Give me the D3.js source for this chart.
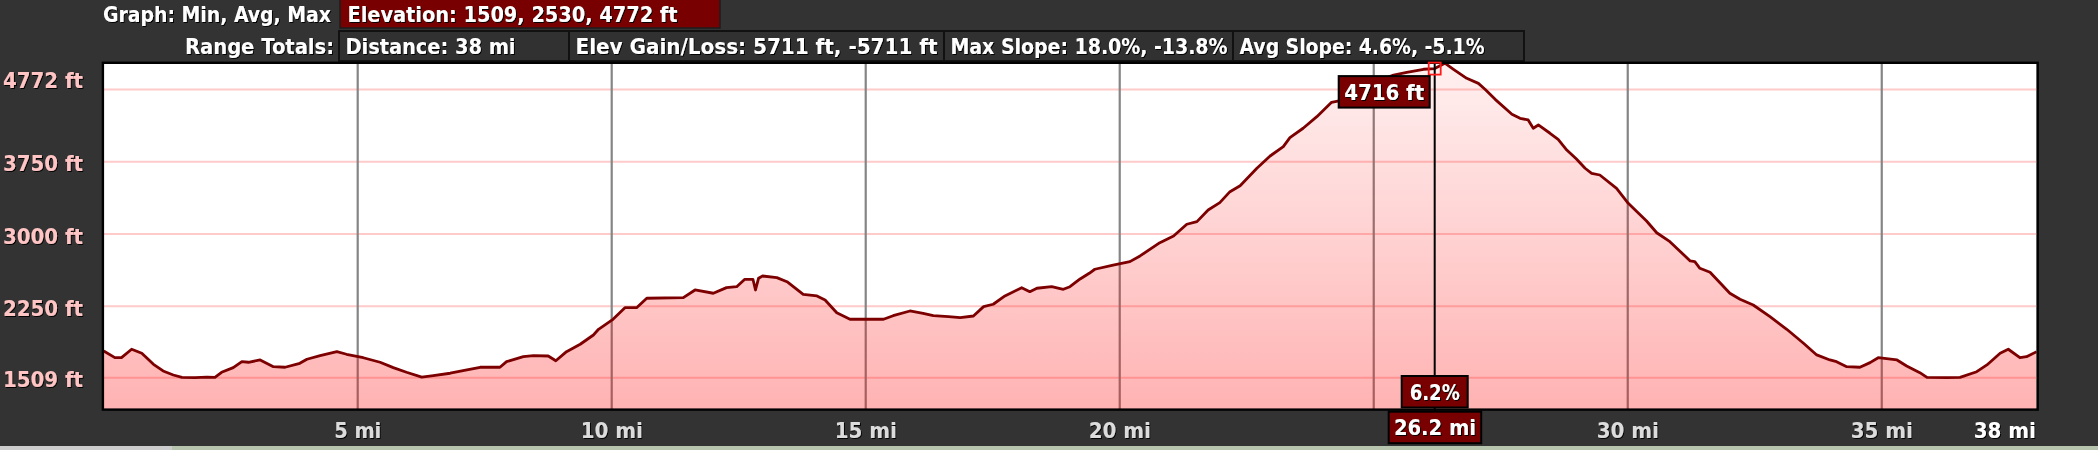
<!DOCTYPE html>
<html>
<head>
<meta charset="utf-8">
<script src="https://cdn.jsdelivr.net/npm/d3@7"></script>
<style>
  html, body { margin: 0; padding: 0; background: #333333; }
  svg { display: block; }
  text { font-family: "DejaVu Sans", Verdana, sans-serif; font-weight: bold; }
</style>
</head>
<body>
<svg id="chart" width="2098" height="450"></svg>
<script>
// ---------------- DATA ----------------
const distanceMi = [0, 0.22, 0.35, 0.55, 0.75, 0.98, 1.17, 1.37, 1.54, 1.80, 2.03, 2.19, 2.32, 2.55, 2.72, 2.85, 3.08, 3.34, 3.57, 3.86,
  4.00, 4.26, 4.59, 4.78, 5.11, 5.44, 5.70, 5.96, 6.26, 6.49, 6.82, 7.15, 7.41, 7.80, 7.93, 8.26, 8.46, 8.75, 8.90, 9.11,
  9.38, 9.64, 9.74, 10.01, 10.26, 10.49, 10.69, 11.41, 11.64, 12.00, 12.26, 12.46, 12.62, 12.78, 12.83, 12.89, 12.97, 13.25, 13.45, 13.77,
  14.04, 14.20, 14.43, 14.69, 15.35, 15.54, 15.87, 16.13, 16.33, 16.63, 16.86, 17.12, 17.32, 17.51, 17.74, 18.07, 18.23, 18.37, 18.66, 18.89,
  19.02, 19.22, 19.40, 19.51, 19.87, 20.20, 20.40, 20.79, 21.06, 21.32, 21.52, 21.74, 21.97, 22.17, 22.37, 22.70, 22.96, 23.22, 23.35, 23.61,
  23.88, 24.17, 24.34, 24.73, 25.03, 25.39, 25.65, 25.98, 26.20, 26.40, 26.57, 26.83, 27.06, 27.19, 27.39, 27.72, 27.88, 28.04, 28.14, 28.24,
  28.47, 28.63, 28.80, 28.99, 29.16, 29.29, 29.45, 29.78, 30.01, 30.37, 30.57, 30.83, 31.23, 31.32, 31.42, 31.62, 32.01, 32.21, 32.47, 32.80,
  33.13, 33.46, 33.72, 33.98, 34.11, 34.31, 34.57, 34.77, 34.93, 35.30, 35.49, 35.75, 35.89, 36.28, 36.54, 36.87, 37.07, 37.33, 37.49, 37.72,
  37.85, 38.05];
const elevationFt = [1786, 1717, 1717, 1804, 1762, 1648, 1579, 1537, 1512, 1509, 1515, 1512, 1565, 1613, 1675, 1669, 1693, 1623, 1617, 1658,
  1700, 1737, 1779, 1752, 1716, 1669, 1613, 1565, 1515, 1530, 1555, 1589, 1617, 1617, 1675, 1727, 1737, 1734, 1685, 1779,
  1856, 1952, 2011, 2108, 2235, 2235, 2333, 2339, 2419, 2385, 2443, 2453, 2530, 2530, 2419, 2540, 2564, 2547, 2505, 2374,
  2357, 2315, 2183, 2115, 2115, 2152, 2201, 2177, 2152, 2142, 2132, 2149, 2246, 2271, 2357, 2443, 2401, 2437, 2453, 2426,
  2453, 2533, 2592, 2634, 2678, 2713, 2772, 2910, 2979, 3101, 3128, 3249, 3325, 3439, 3501, 3682, 3809, 3906, 3999, 4097,
  4217, 4366, 4383, 4494, 4577, 4649, 4678, 4709, 4716, 4772, 4709, 4615, 4563, 4501, 4397, 4242, 4200, 4183, 4097, 4131,
  4045, 3982, 3871, 3778, 3682, 3630, 3612, 3474, 3318, 3135, 3013, 2920, 2720, 2713, 2644, 2603, 2385, 2322, 2263, 2142,
  2011, 1866, 1745, 1693, 1675, 1623, 1617, 1665, 1716, 1693, 1630, 1561, 1512, 1509, 1512, 1571, 1641, 1762, 1804, 1716,
  1727, 1779];

const yGridValues = [1509, 2250, 3000, 3750, 4500];
const yLabelValues = [1509, 2250, 3000, 3750, 4772];
const yLabelTexts = ["1509 ft", "2250 ft", "3000 ft", "3750 ft", "4772 ft"];
const xGridValues = [5, 10, 15, 20, 25, 30, 35];
const xLabelValues = [5, 10, 15, 20, 30, 35];
const xLabelTexts = ["5 mi", "10 mi", "15 mi", "20 mi", "30 mi", "35 mi"];
const totalDistanceLabel = "38 mi";

const headerRow1Title = "Graph: Min, Avg, Max";
const headerRow1Items = ["Elevation: 1509, 2530, 4772 ft"];
const headerRow2Title = "Range Totals:";
const headerRow2Items = ["Distance: 38 mi", "Elev Gain/Loss: 5711 ft, -5711 ft", "Max Slope: 18.0%, -13.8%", "Avg Slope: 4.6%, -5.1%"];

const cursorMi = 26.2;
const cursorFt = 4716;
const cursorElevLabel = "4716 ft";
const cursorSlopeLabel = "6.2%";
const cursorDistLabel = "26.2 mi";

// ---------------- LAYOUT ----------------
const svg = d3.select("#chart");
const plotL = 103.7, plotR = 2036.7, plotT = 63.2, plotB = 409;
const x = d3.scaleLinear().domain([0, 38.05]).range([plotL, plotR]);
const y = d3.scaleLinear().domain([1184, 4772]).range([plotB, plotT]);

const data = distanceMi.map((d, i) => ({ mi: d, ft: elevationFt[i] }));

const defs = svg.append("defs");
const f = defs.append("filter").attr("id", "sh").attr("x", "-10%").attr("y", "-30%").attr("width", "130%").attr("height", "170%");
f.append("feDropShadow").attr("dx", 1).attr("dy", 1).attr("stdDeviation", 0.7).attr("flood-color", "#000").attr("flood-opacity", 0.95);

const grad = defs.append("linearGradient").attr("id", "fillGrad")
  .attr("gradientUnits", "userSpaceOnUse").attr("x1", 0).attr("y1", plotT).attr("x2", 0).attr("y2", plotB);
grad.append("stop").attr("offset", 0).attr("stop-color", "#ff0000").attr("stop-opacity", 0.06);
grad.append("stop").attr("offset", 1).attr("stop-color", "#ff0000").attr("stop-opacity", 0.30);

defs.append("clipPath").attr("id", "plotClip").append("rect")
  .attr("x", plotL).attr("y", plotT).attr("width", plotR - plotL).attr("height", plotB - plotT);

// bottom strip (map edge)
svg.append("rect").attr("x", 0).attr("y", 446).attr("width", 2098).attr("height", 4).attr("fill", "#b7c4ae");
svg.append("rect").attr("x", 0).attr("y", 446).attr("width", 172).attr("height", 4).attr("fill", "#cdcdcd");

// ---------------- HEADER ----------------
const hdrFont = 21;
function hText(g, xPos, yPos, anchor, width, t) {
  g.append("text").attr("x", xPos).attr("y", yPos).attr("text-anchor", anchor)
    .attr("font-size", hdrFont).attr("fill", "#fff").attr("filter", "url(#sh)")
    .attr("textLength", width).attr("lengthAdjust", "spacingAndGlyphs").text(t);
}
const header = svg.append("g");
hText(header, 331, 22, "end", 228, headerRow1Title);
const row1Edges = [340, 720];
const row1TextW = [330];
headerRow1Items.forEach((t, i) => {
  header.append("rect").attr("x", row1Edges[i]).attr("y", -1).attr("width", row1Edges[i + 1] - row1Edges[i]).attr("height", 29)
    .attr("fill", "#780000").attr("stroke", "#1c1c1c").attr("stroke-width", 1.5);
  hText(header, row1Edges[i] + 7.5, 22, "start", row1TextW[i], t);
});
hText(header, 334, 54, "end", 149, headerRow2Title);
const row2Edges = [339, 569, 944, 1233, 1524];
const row2TextW = [170, 362, 277, 245];
headerRow2Items.forEach((t, i) => {
  header.append("rect").attr("x", row2Edges[i]).attr("y", 31).attr("width", row2Edges[i + 1] - row2Edges[i]).attr("height", 30)
    .attr("fill", "#313131").attr("stroke", "#111").attr("stroke-width", 2);
  hText(header, row2Edges[i] + 6.5, 54, "start", row2TextW[i], t);
});

// ---------------- PLOT ----------------
const plot = svg.append("g");
plot.append("rect").attr("x", plotL).attr("y", plotT).attr("width", plotR - plotL).attr("height", plotB - plotT).attr("fill", "#fff");

const gridG = plot.append("g").attr("clip-path", "url(#plotClip)");
gridG.selectAll("line.hg").data(yGridValues).join("line").attr("class", "hg")
  .attr("x1", plotL).attr("x2", plotR).attr("y1", d => y(d)).attr("y2", d => y(d))
  .attr("stroke", "#ffcaca").attr("stroke-width", 2);
gridG.selectAll("line.vg").data(xGridValues).join("line").attr("class", "vg")
  .attr("x1", d => x(d)).attr("x2", d => x(d)).attr("y1", plotT).attr("y2", plotB)
  .attr("stroke", "#858585").attr("stroke-width", 2.2);

const area = d3.area().x(d => x(d.mi)).y0(y(y.domain()[0])).y1(d => y(d.ft));
const line = d3.line().x(d => x(d.mi)).y(d => y(d.ft));
const dataG = plot.append("g").attr("clip-path", "url(#plotClip)");
dataG.append("path").datum(data).attr("d", area).attr("fill", "url(#fillGrad)");
dataG.append("path").datum(data).attr("d", line).attr("fill", "none")
  .attr("stroke", "#7d0000").attr("stroke-width", 2.8).attr("stroke-linejoin", "round");

// plot border
plot.append("rect").attr("x", plotL - 0.8).attr("y", plotT - 0.4).attr("width", plotR - plotL + 1.8).attr("height", plotB - plotT + 1)
  .attr("fill", "none").attr("stroke", "#000").attr("stroke-width", 2.4);

// ---------------- AXES LABELS ----------------
svg.append("g").selectAll("text").data(yLabelValues).join("text")
  .attr("x", 3).attr("y", d => Math.max(y(d) + 9.8, plotT + 24.3))
  .attr("font-size", 21.5).attr("fill", "#ffc4c4").attr("filter", "url(#sh)")
  .attr("textLength", 80).attr("lengthAdjust", "spacingAndGlyphs")
  .text((d, i) => yLabelTexts[i]);

svg.append("g").selectAll("text").data(xLabelValues).join("text")
  .attr("x", d => x(d)).attr("y", 438).attr("text-anchor", "middle")
  .attr("font-size", 21.5).attr("fill", "#dcdcdc").attr("filter", "url(#sh)")
  .attr("textLength", d => d < 10 ? 47 : 62).attr("lengthAdjust", "spacingAndGlyphs")
  .text((d, i) => xLabelTexts[i]);
svg.append("text").attr("x", plotR - 1).attr("y", 438).attr("text-anchor", "end")
  .attr("font-size", 21.5).attr("fill", "#ffffff").attr("filter", "url(#sh)")
  .attr("textLength", 62).attr("lengthAdjust", "spacingAndGlyphs").text(totalDistanceLabel);

// ---------------- CURSOR ----------------
const cx = x(cursorMi), cy = y(cursorFt);
const cur = svg.append("g");
cur.append("line").attr("x1", cx).attr("x2", cx).attr("y1", plotT).attr("y2", plotB + 3)
  .attr("stroke", "#000").attr("stroke-width", 2);
cur.append("rect").attr("x", cx - 6).attr("y", cy - 6).attr("width", 12).attr("height", 12)
  .attr("fill", "none").attr("stroke", "#ff1a1a").attr("stroke-width", 1.8);

function tag(xLeft, yTop, w, h, label, textW) {
  cur.append("rect").attr("x", xLeft).attr("y", yTop).attr("width", w).attr("height", h)
    .attr("fill", "#780000").attr("stroke", "#000").attr("stroke-width", 2);
  cur.append("text").attr("x", xLeft + w / 2).attr("y", yTop + h / 2 + 8).attr("text-anchor", "middle")
    .attr("font-size", 22).attr("fill", "#fff").attr("filter", "url(#sh)")
    .attr("textLength", textW).attr("lengthAdjust", "spacingAndGlyphs").text(label);
}
tag(cx - 96, cy + 7.5, 91, 31.5, cursorElevLabel, 80);
tag(cx - 33, plotB - 33, 66, 31.5, cursorSlopeLabel, 50);
tag(cx - 46, plotB + 2.7, 92.5, 31.5, cursorDistLabel, 82);
</script>
</body>
</html>
